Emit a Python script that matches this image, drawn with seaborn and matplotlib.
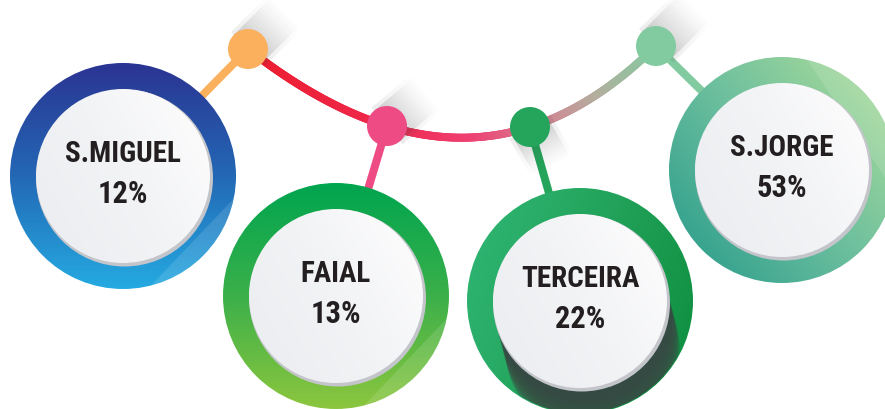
import numpy as np
import pandas as pd
import matplotlib
matplotlib.use("Agg")
import matplotlib.pyplot as plt
from matplotlib import font_manager
from matplotlib.patches import Circle
from matplotlib.collections import LineCollection
from matplotlib.colors import LinearSegmentedColormap
import seaborn as sns

# data
islands = ["S.MIGUEL", "FAIAL", "TERCEIRA", "S.JORGE"]
shares = [12, 13, 22, 53]

# layout (pixels, y down)
ring_xy = [(123, 177), (336, 297), (580, 302), (782, 171)]
node_xy = [(248, 50), (387, 127), (530, 128), (656, 47)]
shadow_dir = [(36, -36), (38, -32), (22, 38), (38, -38)]
R_OUT, R_IN, R_NODE = 113, 87, 20

ring_cols = [["#2b3492", "#2368b5", "#25aae1"],
             ["#00a54f", "#3bb04a", "#8cc63e"],
             ["#2db36f", "#22a25a", "#119243"],
             ["#39a48f", "#6cbf9e", "#9fd69b"]]
ring_ang = [90, 90, 20, -40]
node_cols = ["#fbb05e", "#ee4b84", "#24a55b", "#82cba0"]

sns.set_theme(style="white")
names = {f.name for f in font_manager.fontManager.ttflist}
fam = next((n for n in ["Liberation Sans Narrow", "Roboto Condensed", "DejaVu Sans"] if n in names), "DejaVu Sans")

fig = plt.figure(figsize=(8.85, 4.10), dpi=100)
ax = fig.add_axes([0, 0, 1, 1])
ax.set_axis_off()
PT = 0.72  # points per pixel


def grad_disk(cx, cy, r, cols, ang, z):
    n = 220
    xs = np.linspace(cx - r, cx + r, n)
    ys = np.linspace(cy - r, cy + r, n)
    X, Y = np.meshgrid(xs, ys)
    a = np.radians(ang)
    t = ((X - cx) * np.cos(a) + (Y - cy) * np.sin(a)) / (2 * r) + 0.5
    cmap = LinearSegmentedColormap.from_list("g", cols)
    im = ax.imshow(t, cmap=cmap, vmin=0, vmax=1, origin="upper",
                   extent=(cx - r, cx + r, cy + r, cy - r),
                   interpolation="bilinear", zorder=z)
    im.set_clip_path(Circle((cx, cy), r, transform=ax.transData))
    return im


# connecting curve through the nodes
nx = np.array([p[0] for p in node_xy], float)
ny = np.array([p[1] for p in node_xy], float)
coef = np.polyfit(nx, ny, 3)
xs = np.linspace(nx[0], nx[-1], 300)
ys = np.polyval(coef, xs)
pts = np.column_stack([xs, ys]).reshape(-1, 1, 2)
segs = np.concatenate([pts[:-1], pts[1:]], axis=1)
curve_cmap = LinearSegmentedColormap.from_list(
    "c", [(0, "#ec1c2e"), (0.35, "#ee2a4e"), (0.55, "#ef3f72"),
          (0.72, "#d67f90"), (0.86, "#b4ae9e"), (1, "#86c9a0")])
lc = LineCollection(segs, cmap=curve_cmap, linewidths=8 * PT, zorder=2,
                    capstyle="round")
lc.set_array(np.linspace(0, 1, len(segs)))
ax.add_collection(lc)

# connectors from node to ring
for (x0, y0), (cx, cy), c in zip(node_xy, ring_xy, node_cols):
    ax.plot([x0, cx], [y0, cy], color=c, lw=8 * PT, zorder=1,
            solid_capstyle="butt")

# rings
for i, ((cx, cy), cols) in enumerate(zip(ring_xy, ring_cols)):
    grad_disk(cx, cy, R_OUT, cols, ring_ang[i], 3)

# glare bands on rings
for i in [0, 1, 3]:
    cx, cy = ring_xy[i]
    if i == 3:
        poly = [(cx + 20, cy - R_OUT - 5), (cx + R_OUT + 5, cy - R_OUT - 5),
                (cx + R_OUT + 5, cy + 30)]
    else:
        poly = [(cx + 20, cy + R_OUT + 5), (cx + R_OUT + 5, cy + R_OUT + 5),
                (cx + R_OUT + 5, cy + 15)]
    p = plt.Polygon(poly, closed=True, color="white", alpha=0.12, zorder=3.2,
                    lw=0)
    ax.add_patch(p)
    p.set_clip_path(Circle((cx, cy), R_OUT, transform=ax.transData))

# Terceira inner shadow
cx, cy = ring_xy[2]
for t in np.linspace(0, 1, 30):
    s = Circle((cx + 13 * t, cy + 50 * t), R_IN, color="#3c4a43", alpha=0.12,
               lw=0, zorder=3.5)
    ax.add_patch(s)
    s.set_clip_path(Circle((cx, cy), R_OUT - 1, transform=ax.transData))

# inner white discs
for (cx, cy) in ring_xy:
    ax.add_patch(Circle((cx + 1.5, cy + 2), R_IN + 1.5, color="#c3c5ca",
                        lw=0, zorder=4))
    grad_disk(cx, cy, R_IN, ["#fbfbfc", "#f2f3f5", "#eceef1"], 150, 5)

# node shadows
for (x, y), (dx, dy) in zip(node_xy, shadow_dir):
    n = 16
    for k in range(n):
        t0, t1 = k / n, (k + 1) / n
        for w, a in [(2.4, 0.10), (2.0, 0.22)]:
            ax.plot([x + dx * t0, x + dx * t1], [y + dy * t0, y + dy * t1],
                    color="#444444", alpha=a * (1 - t0) ** 1.3,
                    lw=w * R_NODE * PT, solid_capstyle="butt", zorder=6)

# nodes
nodes = pd.DataFrame({"x": nx, "y": ny, "island": islands})
sns.scatterplot(data=nodes, x="x", y="y", hue="island", palette=node_cols,
                s=(2 * R_NODE * PT) ** 2, linewidth=0, legend=False, ax=ax,
                zorder=7)

# labels
for (cx, cy), name, v in zip(ring_xy, islands, shares):
    ax.text(cx, cy - 23, name, ha="center", va="center", fontsize=21,
            fontweight="bold", color="#231f20", family=fam, zorder=8)
    ax.text(cx, cy + 17, f"{v}%", ha="center", va="center", fontsize=22,
            fontweight="bold", color="#231f20", family=fam, zorder=8)

ax.set_xlim(0, 885)
ax.set_ylim(410, 0)
ax.set_aspect("auto")
fig.savefig("out.png", dpi=100, facecolor="white")
